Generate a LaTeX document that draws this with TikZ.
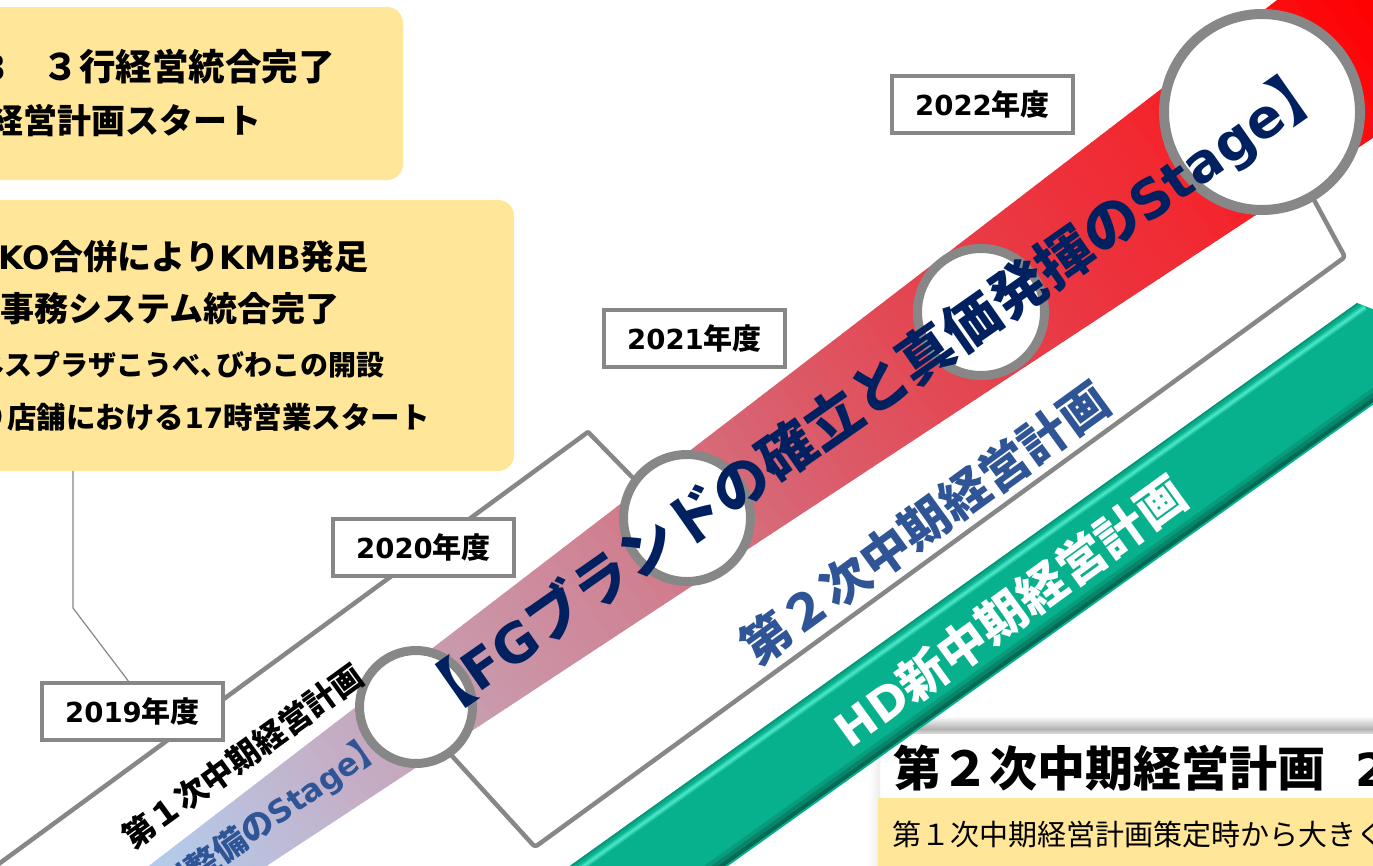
\documentclass[tikz,border=0pt]{standalone}
\usepackage{fontspec}
\setmainfont{Noto Sans CJK JP}
\newfontfamily\latf{DejaVu Sans}[Scale=0.95]
\newcommand\latn[1]{{\latf #1}}
\newcommand\fsz[1]{\fontsize{#1}{#1}\selectfont}
\definecolor{ylw}{HTML}{FFE699}
\definecolor{lgray}{HTML}{878787}
\definecolor{navyc}{HTML}{002060}
\definecolor{midblue}{HTML}{2F5597}
\definecolor{grn}{HTML}{08B18D}
\definecolor{grnhi}{HTML}{45E3C3}
\definecolor{grndk}{HTML}{0A967A}
\definecolor{bc0}{HTML}{B5C9E9}
\definecolor{bc1}{HTML}{C3B3CB}
\definecolor{bc2}{HTML}{CA97AA}
\definecolor{bc3}{HTML}{CF8596}
\definecolor{bc4}{HTML}{D9616F}
\definecolor{bc5}{HTML}{E24A55}
\definecolor{bc6}{HTML}{EB3540}
\definecolor{bc7}{HTML}{F22830}
\definecolor{bc8}{HTML}{FF0000}
\newcommand\bandseg[4]{%
  \foreach \k in {0,...,11}{%
    \pgfmathsetmacro\bsxs{(#1)+((#2)-(#1))*\k/12}%
    \pgfmathsetmacro\bsxe{(#1)+((#2)-(#1))*(\k+1)/12+1}%
    \pgfmathsetmacro\bspc{100*(\k+0.5)/12}%
    \colorlet{slicecol}{#4!\bspc!#3}%
    \fill[slicecol] (\bsxs,-400) -- (\bsxe,-400) -- (\bsxe,400) -- (\bsxs,400) -- cycle;
  }}
\begin{document}
\begin{tikzpicture}[x=1pt,y=-1pt,
  txt/.style={inner sep=0pt},
  ybox/.style={fill=ylw, rounded corners=16pt, inner sep=0pt},
  yearbox/.style={draw=lgray, line width=3.5pt, fill=white, minimum width=181pt, minimum height=57pt, inner sep=0pt, font=\fsz{29}\bfseries},
  circ/.style={circle, draw=lgray, line width=9pt, fill=white, inner sep=0pt},
  outln/.style={draw=lgray, line width=4.5pt, line join=round},
  thinln/.style={draw=lgray, line width=1.2pt}]
\useasboundingbox (0,0) rectangle (1373,865);
\clip (0,0) rectangle (1373,865);
\fill[white] (0,0) rectangle (1373,865);

% yellow boxes top-left
\node[ybox, minimum width=443pt, minimum height=173pt] (box1) at (181.5,93.5) {};
\node[txt, anchor=base east, font=\fsz{36.5}\bfseries] (t1a) at (335,80) {\latn{3}　３行経営統合完了};
\node[txt, anchor=base east, font=\fsz{34}\bfseries] (t1b) at (262,133) {経営計画スタート};
\node[ybox, minimum width=554pt, minimum height=271pt] (box2) at (237,335.5) {};
\node[txt, anchor=base east, font=\fsz{34}\bfseries] (t2a) at (369,269) {\latn{KO}合併により\latn{KMB}発足};
\node[txt, anchor=base east, font=\fsz{34}\bfseries] (t2b) at (340,321) {事務システム統合完了};
\node[txt, anchor=base east, font=\fsz{28}\bfseries] (t2c) at (385,375) {ネスプラザこうべ、\kern-12pt びわこの開設};
\node[txt, anchor=base east, font=\fsz{29.5}\bfseries] (t2d) at (430,428) {り店舗における\latn{17}時営業スタート};

% outline shapes of plans
\coordinate (p1a) at (-20,877.7);
\coordinate (apex) at (588,432);
\coordinate (p1c) at (655,500.5);
\draw[outln] (p1a) -- (apex) -- (p1c);
\coordinate (q0) at (429.4,731.1);
\coordinate (q1) at (535,847);
\coordinate (q2) at (1345,257);
\coordinate (q3) at (1307,187);
\draw[outln, rounded corners=3pt] (q0) -- (q1) -- (q2) -- (q3);

% gradient band
\begin{scope}
\clip (80,918.7) -- (1420,-109.7) -- (1420,107) -- (180,922.9) -- cycle;
\begin{scope}[shift={(200,880)}, rotate=35.4]
\bandseg{-250}{0}{bc0}{bc0}
\bandseg{0}{150}{bc0}{bc1}
\bandseg{150}{350}{bc1}{bc2}
\bandseg{350}{500}{bc2}{bc3}
\bandseg{500}{720}{bc3}{bc4}
\bandseg{720}{880}{bc4}{bc5}
\bandseg{880}{1060}{bc5}{bc6}
\bandseg{1060}{1200}{bc6}{bc7}
\bandseg{1200}{1470}{bc7}{bc8}
\bandseg{1470}{1700}{bc8}{bc8}
\end{scope}
\end{scope}

% bottom-right panel (under green bar)
\shade[top color=white, bottom color=black!30] (870,716) rectangle (1380,729);
\shade[top color=black!30, bottom color=black!12] (870,729) rectangle (1380,734);
\fill[white] (880,734) rectangle (1380,870);
\shade[left color=white, right color=black!7] (868,734) rectangle (880,870);

% green bar
\begin{scope}[shift={(560,873)}, rotate=35.57]
\fill[grn] (-40,0) -- (980,0) -- (1040,92) -- (-40,92) -- cycle;
\draw[grnhi, line width=6pt, opacity=.5] (-40,8) -- (984,8);
\draw[grnhi, line width=2.5pt] (-40,8) -- (984,8);
\draw[grndk, line width=2pt] (-40,1) -- (980,1);
\draw[grn!88!black, line width=4pt] (-40,80) -- (1040,80);
\draw[grn!75!black, line width=4pt] (-40,84) -- (1040,84);
\draw[grn!60!black, line width=4pt] (-40,88) -- (1040,88);
\end{scope}

% heading and yellow box bottom-right
\node[txt, anchor=base west, font=\fsz{48}\bfseries] (head) at (893,786) {第２次中期経営計画\hspace{30pt}\latn{2}};
\node[fill=ylw, minimum width=530pt, minimum height=100pt, anchor=north west, inner sep=0pt] (box3) at (878,798) {};
\node[txt, anchor=base west, font=\fsz{29}] (b3t) at (892,845) {第１次中期経営計画策定時から大きく};

% circles
\node[circ, minimum size=113pt] (c1) at (416,707) {};
\node[circ, minimum size=127pt] (c2) at (687,518) {};
\node[circ, minimum size=127pt] (c3) at (981,312) {};
\node[circ, minimum size=196pt, line width=10pt] (c4) at (1262,112) {};

% year boxes
\node[yearbox] (y2019) at (132.5,711.5) {\latn{2019}年度};
\node[yearbox] (y2020) at (423.5,547.5) {\latn{2020}年度};
\node[yearbox] (y2021) at (694.5,338.5) {\latn{2021}年度};
\node[yearbox] (y2022) at (982.5,104.5) {\latn{2022}年度};

% connector from box2 to 2019
\coordinate (kink) at (73,608);
\draw[thinln] (box2.south -| kink) -- (kink) -- ([xshift=-4pt]y2019.north);

% rotated texts
\node[txt, rotate=36, font=\fsz{32}\bfseries] (p1txt) at (243,756) {第１次中期経営計画};
\node[txt, rotate=35, anchor=base east, text=midblue, font=\fsz{33}\bfseries] (s1txt) at (389,749) {制整備の\latn{Stage}】};
\node[txt, rotate=35, anchor=base, text=navyc, font=\fsz{56.5}\bfseries] (bandtxt) at (884,409) {【\latn{FG}ブランドの確立と真価発揮の\latn{Stage}】};
\node[txt, rotate=36, text=midblue, font=\fsz{49}\bfseries] (p2txt) at (924.5,523) {第２次中期経営計画};
\node[txt, rotate=36, text=white, font=\fsz{49}\bfseries] (hdtxt) at (1010,611) {\latn{HD}新中期経営計画};
\end{tikzpicture}
\end{document}
